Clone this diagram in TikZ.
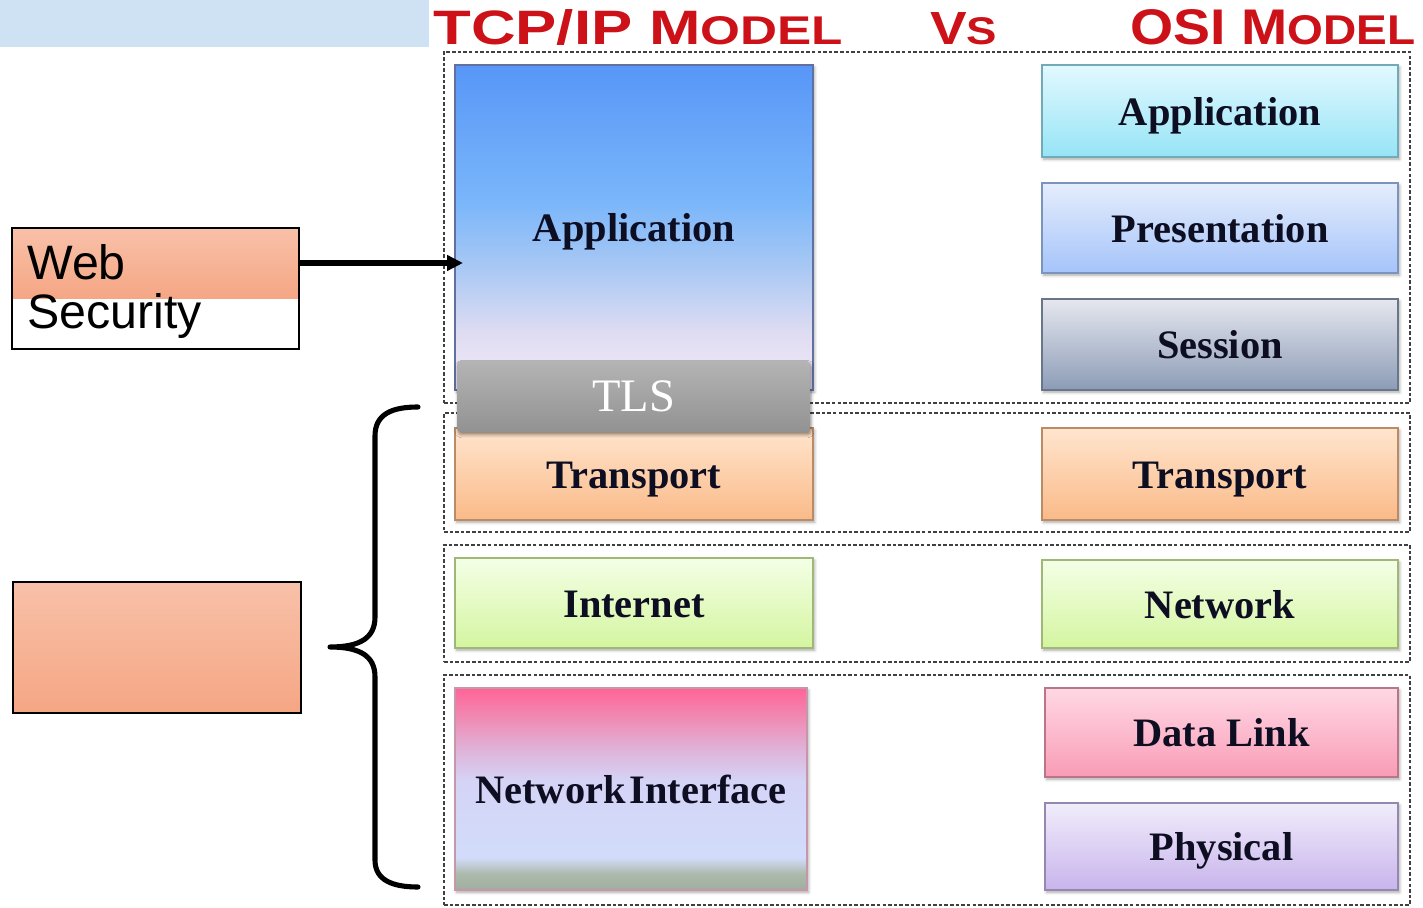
\documentclass[tikz,border=0pt]{standalone}
\usepackage{fontspec}
\setmainfont{Liberation Serif}
\newfontfamily\sansf{Liberation Sans}
\usepackage{graphicx}
\usetikzlibrary{arrows.meta,shadows.blur}

% palette
\definecolor{barblue}{RGB}{207,226,243}
\definecolor{titlered}{RGB}{204,18,24}
\definecolor{textdark}{RGB}{14,14,34}
\definecolor{appA}{RGB}{88,150,248}
\definecolor{appB}{RGB}{122,182,250}
\definecolor{appC}{RGB}{168,200,244}
\definecolor{appD}{RGB}{222,220,242}
\definecolor{appE}{RGB}{232,226,244}
\definecolor{appEdge}{RGB}{96,112,160}
\definecolor{niA}{RGB}{255,100,150}
\definecolor{niB}{RGB}{238,142,182}
\definecolor{niC}{RGB}{224,178,216}
\definecolor{niD}{RGB}{212,212,246}
\definecolor{niE}{RGB}{210,220,250}
\definecolor{niF}{RGB}{172,186,172}
\definecolor{niG}{RGB}{160,174,160}
\definecolor{niEdge}{RGB}{200,150,170}
\definecolor{tlsTop}{RGB}{180,180,180}
\definecolor{tlsBot}{RGB}{146,146,146}
\definecolor{trTop}{RGB}{255,229,206}
\definecolor{trBot}{RGB}{250,186,136}
\definecolor{inTop}{RGB}{244,255,230}
\definecolor{inBot}{RGB}{212,245,160}
\definecolor{oaTop}{RGB}{226,249,255}
\definecolor{oaBot}{RGB}{150,228,246}
\definecolor{prTop}{RGB}{229,237,252}
\definecolor{prBot}{RGB}{165,196,250}
\definecolor{seTop}{RGB}{230,231,239}
\definecolor{seBot}{RGB}{140,156,182}
\definecolor{dlTop}{RGB}{255,216,229}
\definecolor{dlBot}{RGB}{249,156,182}
\definecolor{phTop}{RGB}{241,237,251}
\definecolor{phBot}{RGB}{200,180,236}
\definecolor{salTop}{RGB}{248,193,169}
\definecolor{salBot}{RGB}{245,166,132}

% multi-stop vertical fills (25bp = bottom edge, 75bp = top edge)
\pgfdeclareverticalshading{appshade}{100bp}{color(0bp)=(appE); color(30bp)=(appE);
  color(34bp)=(appD); color(44bp)=(appC); color(54bp)=(appB); color(75bp)=(appA); color(100bp)=(appA)}
\pgfdeclareverticalshading{nishade}{100bp}{color(0bp)=(niG); color(25bp)=(niG);
  color(29bp)=(niF); color(33bp)=(niE); color(52bp)=(niD); color(60bp)=(niC);
  color(67bp)=(niB); color(75bp)=(niA); color(100bp)=(niA)}

% box given by its pixel corners: name, x1, y1, x2, y2, style, text
\newcommand\layerbox[7]{%
  \node[#6, minimum width={(#4-#2)*0.02cm}, minimum height={(#5-#3)*0.02cm}]
    (#1) at ({(#2+#4)/2},{(#3+#5)/2}) {#7};}

\tikzset{
  group/.style={draw=black!75, dash pattern=on 2pt off 1.2pt, line width=0.8pt,
    inner sep=0pt, outer sep=0pt},
  layer/.style={inner sep=0pt, outer sep=0pt, line width=0.6pt, text=textdark,
    font=\bfseries\fontsize{23}{23}\selectfont, text height=16.4pt, text depth=0pt,
    blur shadow={shadow xshift=0.9pt, shadow yshift=-1.3pt, shadow blur radius=1.6pt,
      shadow opacity=35}},
  grad/.style={layer, top color=#1Top, bottom color=#1Bot, draw=#1Bot!75!black},
  tlsbox/.style={inner sep=0pt, outer sep=0pt, rounded corners=2pt,
    top color=tlsTop, bottom color=tlsBot, text height=17pt, text depth=0pt,
    text=white, font=\fontsize{26.5}{26.5}\selectfont,
    blur shadow={shadow xshift=0.6pt, shadow yshift=-1.5pt, shadow blur radius=1.8pt,
      shadow opacity=45}},
  plainbox/.style={draw=black, line width=0.8pt, inner sep=0pt, outer sep=0pt},
  websty/.style={inner sep=0pt, font=\sansf\fontsize{27.5}{27.5}\selectfont, text=black},
  titlesty/.style={inner sep=0pt, anchor=base west, text=titlered,
    font=\sansf\bfseries},
  arrowline/.style={line width=3pt, -{Triangle[length=9pt,width=8.5pt]}},
  braceline/.style={line width=2.9pt, line cap=round, line join=round}
}

\begin{document}
\begin{tikzpicture}[x=0.02cm, y=-0.02cm]
\useasboundingbox (0,0) rectangle (1423,908);

% header band and title
\fill[barblue] (0,0) rectangle (429,47);
\node[titlesty] (ttcp) at (433,45) {\resizebox{8.2cm}{0.70cm}{TCP/IP M\scalebox{0.83}{ODEL}}};
\node[titlesty] (tvs)  at (930,45) {\resizebox{1.34cm}{0.64cm}{V\scalebox{0.83}{S}}};
\node[titlesty] (tosi) at (1130,45) {\resizebox{5.7cm}{0.70cm}{OSI M\scalebox{0.83}{ODEL}}};

% dashed layer groups
\layerbox{grpA}{444}{52}{1410}{403}{group}{}
\layerbox{grpB}{444}{413}{1410}{532}{group}{}
\layerbox{grpC}{444}{545}{1410}{662}{group}{}
\layerbox{grpD}{444}{675}{1410}{905}{group}{}

% TCP/IP column
\layerbox{tapp}{455}{65}{813}{390}{layer, shading=appshade, draw=appEdge}{Application}
\layerbox{ttrans}{455}{428}{813}{520}{grad=tr}{Transport}
\layerbox{tint}{455}{558}{813}{648}{grad=in}{Internet}
\layerbox{tnet}{455}{688}{807}{890}{layer, shading=nishade, draw=niEdge}{Network\kern0.1em Interface}
\layerbox{tls}{457}{361}{810}{432}{tlsbox}{TLS}

% OSI column
\layerbox{oapp}{1042}{65}{1398}{157}{grad=oa}{Application}
\layerbox{opres}{1042}{183}{1398}{273}{grad=pr}{Presentation}
\layerbox{osess}{1042}{299}{1398}{390}{grad=se}{Session}
\layerbox{otrans}{1042}{428}{1398}{520}{grad=tr}{Transport}
\layerbox{onet}{1042}{560}{1398}{648}{grad=in}{Network}
\layerbox{olink}{1045}{688}{1398}{777}{grad=dl}{Data Link}
\layerbox{ophys}{1045}{803}{1398}{890}{grad=ph}{Physical}

% Web Security label box
\layerbox{web}{12}{228}{299}{349}{plainbox, fill=white}{}
\shade[top color=salTop, bottom color=salBot] (web.north west) rectangle (299,299);
\draw[line width=0.8pt] (web.north west) rectangle (web.south east);
\node[websty, anchor=base west] (webtxt) at (27,280) {Web};
\node[websty, anchor=base west] (sectxt) at (27,329) {Security};

% empty label box for the lower layers
\layerbox{lower}{13}{582}{301}{713}{plainbox, top color=salTop, bottom color=salBot}{}

% arrow into the application layer
\coordinate (arrtip) at (463,263);
\draw[arrowline] (web.east |- arrtip) -- (arrtip);

% curly brace over transport, internet and network interface
\draw[braceline] (418,407) .. controls (392,407) and (375,414) .. (375,436)
  -- (375,617) .. controls (375,638) and (360,647) .. (330,647)
  .. controls (360,647) and (375,656) .. (375,677)
  -- (375,860) .. controls (375,880) and (392,887) .. (418,887);
\end{tikzpicture}
\end{document}
